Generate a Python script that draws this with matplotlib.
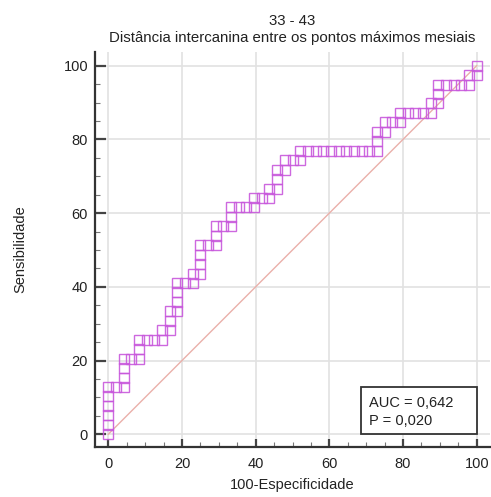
import matplotlib
matplotlib.use("Agg")
import matplotlib.pyplot as plt
from matplotlib.patches import Rectangle
from matplotlib.ticker import MultipleLocator

plt.rcParams['font.family'] = ['Liberation Sans', 'DejaVu Sans']

title_line1 = "33 - 43"
title_line2 = "Distância intercanina entre os pontos máximos mesiais"
x_label = "100-Especificidade"
y_label = "Sensibilidade"
auc_text = "AUC = 0,642"
p_text = "P = 0,020"

n_neg = 48
n_pos = 39
# false-positive counts and true-positive counts of each ROC point
fp_counts = [0, 0, 0, 0, 0, 0, 1, 2, 2, 2, 2, 3, 4, 4, 4, 5, 6, 7, 7, 8, 8, 8, 9, 9, 9, 9,
             10, 11, 11, 12, 12, 12, 12, 13, 14, 14, 14, 15, 16, 16, 16, 17, 18, 19, 19,
             20, 21, 21, 22, 22, 22, 23, 23, 24, 25, 25, 26, 27, 28, 29, 30, 31, 32, 33,
             34, 35, 35, 35, 36, 36, 37, 38, 38, 39, 40, 41, 42, 42, 43, 43, 43, 44, 45,
             46, 47, 47, 48, 48]
tp_counts = [0, 1, 2, 3, 4, 5, 5, 5, 6, 7, 8, 8, 8, 9, 10, 10, 10, 10, 11, 11, 12, 13, 13,
             14, 15, 16, 16, 16, 17, 17, 18, 19, 20, 20, 20, 21, 22, 22, 22, 23, 24, 24,
             24, 24, 25, 25, 25, 26, 26, 27, 28, 28, 29, 29, 29, 30, 30, 30, 30, 30, 30,
             30, 30, 30, 30, 30, 31, 32, 32, 33, 33, 33, 34, 34, 34, 34, 34, 35, 35, 36,
             37, 37, 37, 37, 37, 38, 38, 39]
assert len(fp_counts) == len(tp_counts)

x_vals = [100.0 * f / n_neg for f in fp_counts]
y_vals = [100.0 * t / n_pos for t in tp_counts]

major_ticks = [0, 20, 40, 60, 80, 100]

fig = plt.figure(figsize=(4.91, 4.97), dpi=100)
W, H = 491, 497
ax_left, ax_right, ax_top, ax_bottom = 95, 490, 52, 447
ax = fig.add_axes([ax_left / W, 1 - ax_bottom / H, (ax_right - ax_left) / W, (ax_bottom - ax_top) / H])

ax.set_xlim(-3.6, 103.6)
ax.set_ylim(-3.45, 103.7)

ax.xaxis.set_minor_locator(MultipleLocator(5))
ax.yaxis.set_minor_locator(MultipleLocator(5))
ax.set_xticks(major_ticks)
ax.set_yticks(major_ticks)

ax.grid(True, which='major', color='#e2e2e2', linewidth=1.2, zorder=0)
ax.set_axisbelow(True)

for s in ['top', 'right']:
    ax.spines[s].set_visible(False)
for s in ['left', 'bottom']:
    ax.spines[s].set_color('#333333')
    ax.spines[s].set_linewidth(1.6)

ax.tick_params(axis='y', which='major', direction='in', length=8, width=1.6, color='#444444',
               labelsize=10.5, pad=5, labelcolor='#222222')
ax.tick_params(axis='x', which='major', direction='in', length=6, width=1.6, color='#444444',
               labelsize=10.5, pad=7, labelcolor='#222222')
ax.tick_params(which='minor', direction='in', length=3.5, width=0.8, color='#777777')

# diagonal reference line
ax.plot([0, 100], [0, 100], color='#eab0aa', linewidth=1.0, zorder=2)

# ROC points
ax.plot(x_vals, y_vals, linestyle='none', marker='s', markersize=7.0,
        markerfacecolor='none', markeredgecolor='#c858dc', markeredgewidth=1.0,
        alpha=0.9, zorder=3)

# AUC box
box_x0, box_x1 = 68.5, 100.0
box_y0, box_y1 = 0.0, 12.9
ax.add_patch(Rectangle((box_x0, box_y0), box_x1 - box_x0, box_y1 - box_y0,
                       facecolor='white', edgecolor='#333333', linewidth=1.3, zorder=5))
ax.text(box_x0 + 2.3, box_y1 - 2.4, auc_text + "\n" + p_text, fontsize=10.5,
        va='top', ha='left', color='#222222', linespacing=1.4, zorder=6)

ax.set_xlabel(x_label, fontsize=10.5, color='#222222', labelpad=5)
ax.set_ylabel(y_label, fontsize=10.5, color='#222222', labelpad=26)
ax.set_title(title_line1 + "\n" + title_line2, fontsize=10.8, color='#222222', pad=7,
             linespacing=1.3)

fig.savefig("out.png", dpi=100)
